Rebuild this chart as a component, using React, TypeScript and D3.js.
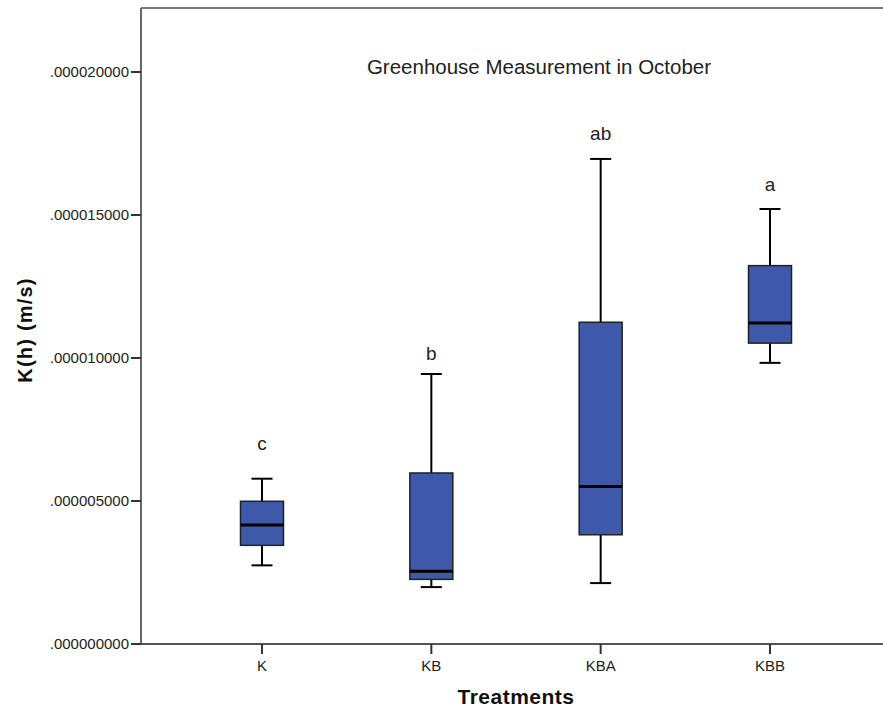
import React from "react";
import * as d3 from "d3";

const categories = ["K", "KB", "KBA", "KBB"];
const whiskerLow = [2.75e-6, 1.99e-6, 2.13e-6, 9.83e-6];
const q1 = [3.45e-6, 2.26e-6, 3.82e-6, 10.52e-6];
const median = [4.16e-6, 2.54e-6, 5.51e-6, 11.22e-6];
const q3 = [4.99e-6, 5.98e-6, 11.25e-6, 13.23e-6];
const whiskerHigh = [5.78e-6, 9.44e-6, 16.96e-6, 15.21e-6];
const groupLetters = ["c", "b", "ab", "a"];
const letterValues = [7.03e-6, 10.17e-6, 17.87e-6, 16.08e-6];
const yTicks = [0, 5e-6, 10e-6, 15e-6, 20e-6];
const yTickLabels = [".000000000", ".000005000", ".000010000", ".000015000", ".000020000"];

const W = 883;
const H = 711;
const FONT = "'Liberation Sans', Arial, sans-serif";
const NARROW = "'Liberation Sans Narrow', 'Liberation Sans', Arial, sans-serif";

export default function App() {
  const left = 141;
  const top = 8;
  const bottom = 644;
  const y = d3.scaleLinear().domain([0, 2.2238e-5]).range([bottom, top]);
  const x = d3.scalePoint<string>().domain(categories).range([262, 770]);
  const boxW = 43;
  const capW = 21;
  const boxFill = "#3e58aa";

  return (
    <svg
      width={W}
      height={H}
      style={{ position: "absolute", left: 0, top: 0, background: "#fff" }}
    >
      <rect x={0} y={0} width={W} height={H} fill="#fff" />
      {/* frame */}
      <line x1={left} x2={W} y1={top} y2={top} stroke="#7a7a7a" strokeWidth={2} />
      <line x1={left} x2={left} y1={top} y2={bottom} stroke="#666" strokeWidth={2} />
      <line x1={left} x2={W} y1={bottom} y2={bottom} stroke="#555" strokeWidth={2} />

      {/* y ticks */}
      {yTicks.map((t, i) => (
        <g key={i}>
          <line x1={left - 10} x2={left} y1={y(t)} y2={y(t)} stroke="#333" strokeWidth={2} />
          <text
            x={left - 12}
            y={y(t)}
            dy="0.35em"
            textAnchor="end"
            fontFamily={FONT}
            fontSize={15}
            fill="#222"
          >
            {yTickLabels[i]}
          </text>
        </g>
      ))}

      {/* x ticks */}
      {categories.map((c) => (
        <g key={c}>
          <line x1={x(c)} x2={x(c)} y1={bottom} y2={bottom + 10} stroke="#333" strokeWidth={2} />
          <text
            x={x(c)}
            y={bottom + 22}
            dy="0.35em"
            textAnchor="middle"
            fontFamily={NARROW}
            fontSize={15}
            fill="#222"
          >
            {c}
          </text>
        </g>
      ))}

      {/* boxes */}
      {categories.map((c, i) => {
        const cx = x(c) as number;
        return (
          <g key={c}>
            <line x1={cx} x2={cx} y1={y(whiskerHigh[i])} y2={y(q3[i])} stroke="#000" strokeWidth={2} />
            <line x1={cx} x2={cx} y1={y(q1[i])} y2={y(whiskerLow[i])} stroke="#000" strokeWidth={2} />
            <line x1={cx - capW / 2} x2={cx + capW / 2} y1={y(whiskerHigh[i])} y2={y(whiskerHigh[i])} stroke="#000" strokeWidth={2} />
            <line x1={cx - capW / 2} x2={cx + capW / 2} y1={y(whiskerLow[i])} y2={y(whiskerLow[i])} stroke="#000" strokeWidth={2} />
            <rect
              x={cx - boxW / 2}
              y={y(q3[i])}
              width={boxW}
              height={y(q1[i]) - y(q3[i])}
              fill={boxFill}
              stroke="#222"
              strokeWidth={1.5}
            />
            <line x1={cx - boxW / 2} x2={cx + boxW / 2} y1={y(median[i])} y2={y(median[i])} stroke="#000" strokeWidth={3} />
            <text
              x={cx}
              y={y(letterValues[i])}
              dy="0.35em"
              textAnchor="middle"
              fontFamily={FONT}
              fontSize={19}
              fill="#222"
            >
              {groupLetters[i]}
            </text>
          </g>
        );
      })}

      {/* title */}
      <text
        x={539}
        y={67}
        dy="0.35em"
        textAnchor="middle"
        fontFamily={FONT}
        fontSize={20.5}
        fill="#222"
      >
        Greenhouse Measurement in October
      </text>

      {/* axis titles */}
      <text
        x={516}
        y={697}
        dy="0.35em"
        textAnchor="middle"
        fontFamily={FONT}
        fontWeight="bold"
        fontSize={21}
        letterSpacing={0.5}
        fill="#111"
      >
        Treatments
      </text>
      <text
        transform={`translate(25,330) rotate(-90)`}
        dy="0.35em"
        textAnchor="middle"
        fontFamily={FONT}
        fontWeight="bold"
        fontSize={20}
        letterSpacing={1.2}
        fill="#111"
      >
        K(h) (m/s)
      </text>
    </svg>
  );
}
